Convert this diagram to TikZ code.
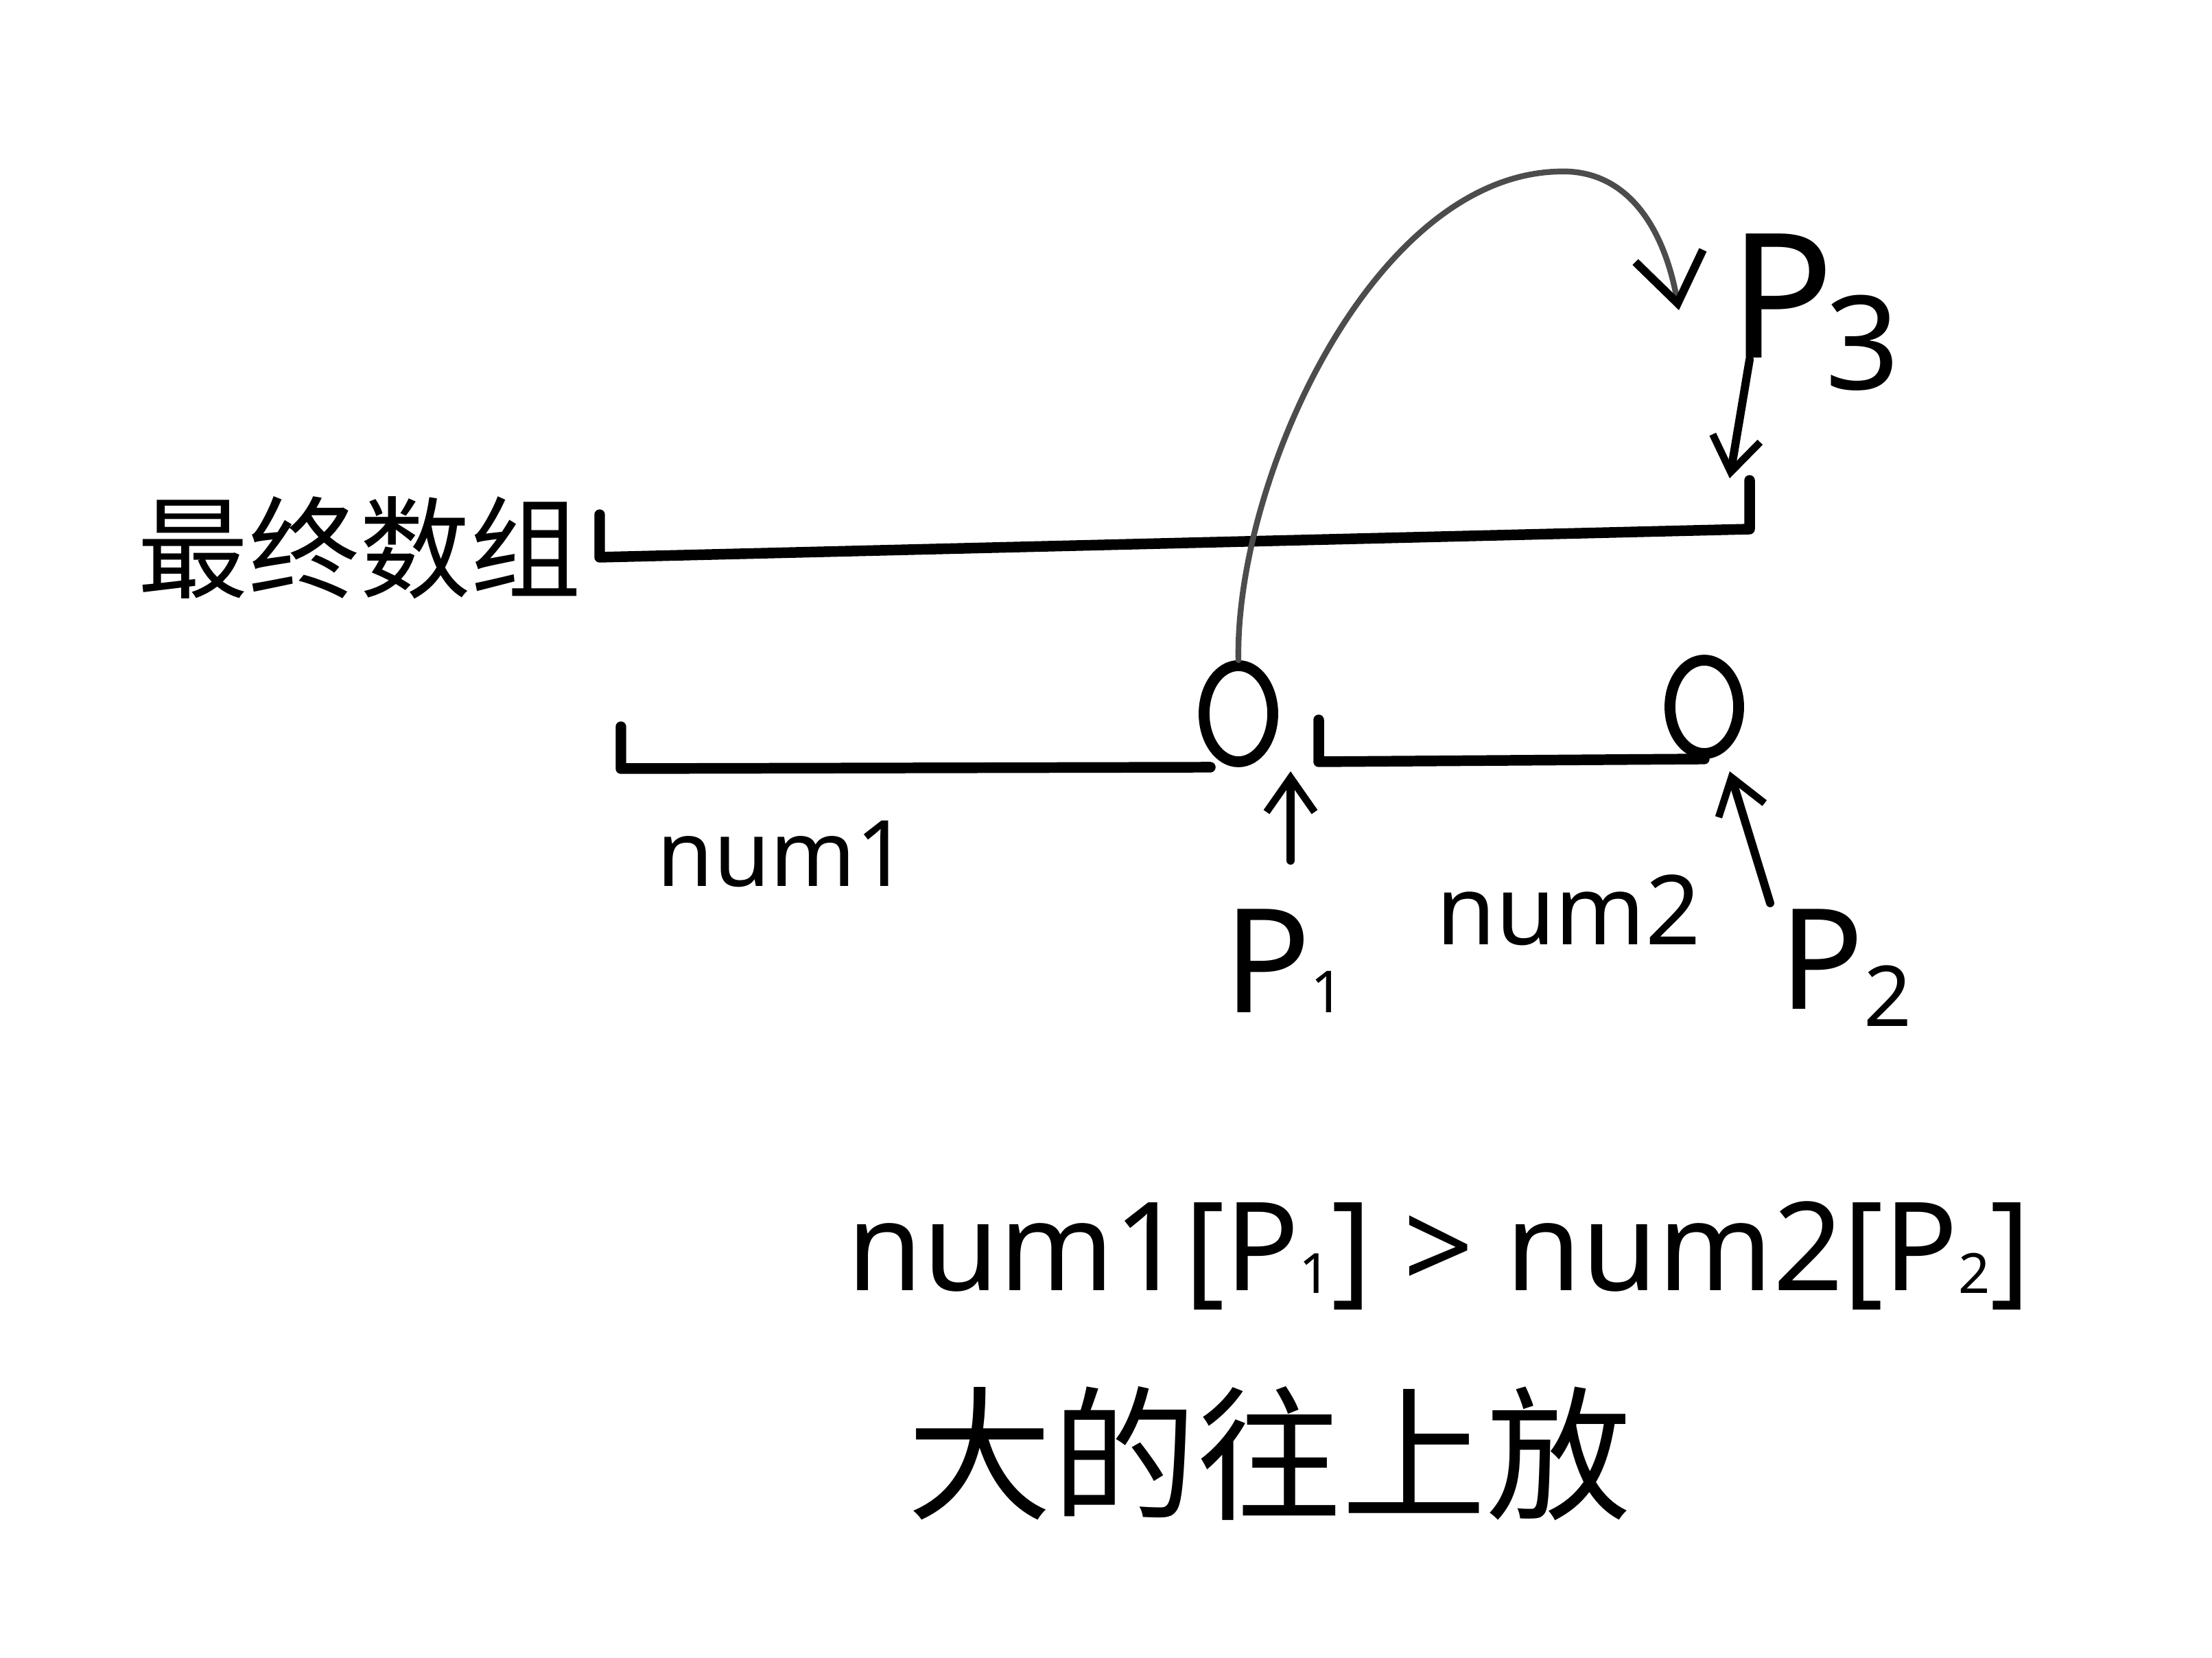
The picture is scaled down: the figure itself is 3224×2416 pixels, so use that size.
\documentclass[tikz,border=0pt]{standalone}
\usepackage{fontspec}
\usepackage{graphicx}
\setmainfont{Noto Sans}
\newfontfamily\cjk{Noto Sans CJK SC}
\usetikzlibrary{arrows.meta,shapes.geometric}
\newcommand\psub[3]{\raisebox{#1}{\scalebox{#2}{#3}}}
\begin{document}
\begin{tikzpicture}[x=0.01cm,y=-0.01cm,
  ink/.style={line width=4.4pt, line cap=round, line join=round},
  thinink/.style={line width=2.4pt, black!70, line cap=round},
  ptr/.style={line width=3.4pt, line cap=round, -{Straight Barb[length=5mm,width=7mm,line width=3pt]}},
  circ/.style={ellipse, draw, line width=4.5pt, inner sep=0pt},
  lbl/.style={inner sep=0pt, anchor=center}
]
\useasboundingbox[fill=white] (0,0) rectangle (3224,2416);

% final array
\coordinate (fa-tl) at (874,750);
\coordinate (fa-bl) at (874,812);
\coordinate (fa-br) at (2550,771);
\coordinate (fa-tr) at (2550,700);
\draw[ink] (fa-tl) -- (fa-bl) -- (fa-br) -- (fa-tr);
\node[lbl, font=\cjk\fontsize{46}{55}\selectfont] (title) at (524,798) {最终数组};

% num1 array
\node[circ, minimum width=1.0cm, minimum height=1.4cm] (c1) at (1805,1040) {};
\coordinate (n1-tl) at (905,1059);
\coordinate (n1-bl) at (905,1120);
\draw[ink] (n1-tl) -- (n1-bl) -- (c1.south west |- c1.south);
\node[lbl, font=\fontsize{38}{46}\selectfont] (n1) at (1141,1244) {num1};

% num2 array
\node[circ, minimum width=1.0cm, minimum height=1.36cm] (c2) at (2484,1030) {};
\coordinate (n2-tl) at (1922,1049);
\coordinate (n2-bl) at (1922,1110);
\draw[ink] (n2-tl) -- (n2-bl) -- (c2.south);
\node[lbl, font=\fontsize{40}{48}\selectfont] (n2) at (2286,1326) {num2};

% pointers
\coordinate (p1tail) at (1881,1254);
\coordinate (p1head) at (1881,1124);
\draw[ptr] (p1tail) -- (p1head);
\node[lbl, font=\fontsize{60}{72}\selectfont] (P1) at (1871,1400) {P\psub{0pt}{0.4}{1}};

\coordinate (p2tail) at (2580,1316);
\coordinate (p2head) at (2521,1124);
\draw[ptr] (p2tail) -- (p2head);
\node[lbl, font=\fontsize{58}{70}\selectfont] (P2) at (2690,1410) {P\psub{-0.12em}{0.6}{\textbf{2}}};

\coordinate (p3tail) at (2550,524);
\coordinate (p3head) at (2521,697);
\draw[ptr] (p3tail) -- (p3head);
\node[lbl, font=\fontsize{72}{86}\selectfont] (P3) at (2645,455) {P\kern-0.05em\psub{-0.18em}{0.75}{3}};

% moving curve
\coordinate (top) at (2270,250);
\coordinate (dest) at (2447,452);
\draw[thinink] (c1.north) .. controls (1800,700) and (2000,258) .. (top);
\draw[thinink, -{Straight Barb[length=7mm,width=10mm,line width=3.4pt,color=black]}] (top) .. controls (2370,245) and (2425,330) .. (dest);

% condition text
\node[lbl, font=\fontsize{51}{61}\selectfont] (cond) at (2097,1830) {num1[P\psub{-0.02em}{0.45}{1}] > num2[P\psub{-0.02em}{0.45}{2}]};
\node[lbl, font=\cjk\fontsize{60}{72}\selectfont] (note) at (1850,2118) {大的往上放};
\end{tikzpicture}
\end{document}
